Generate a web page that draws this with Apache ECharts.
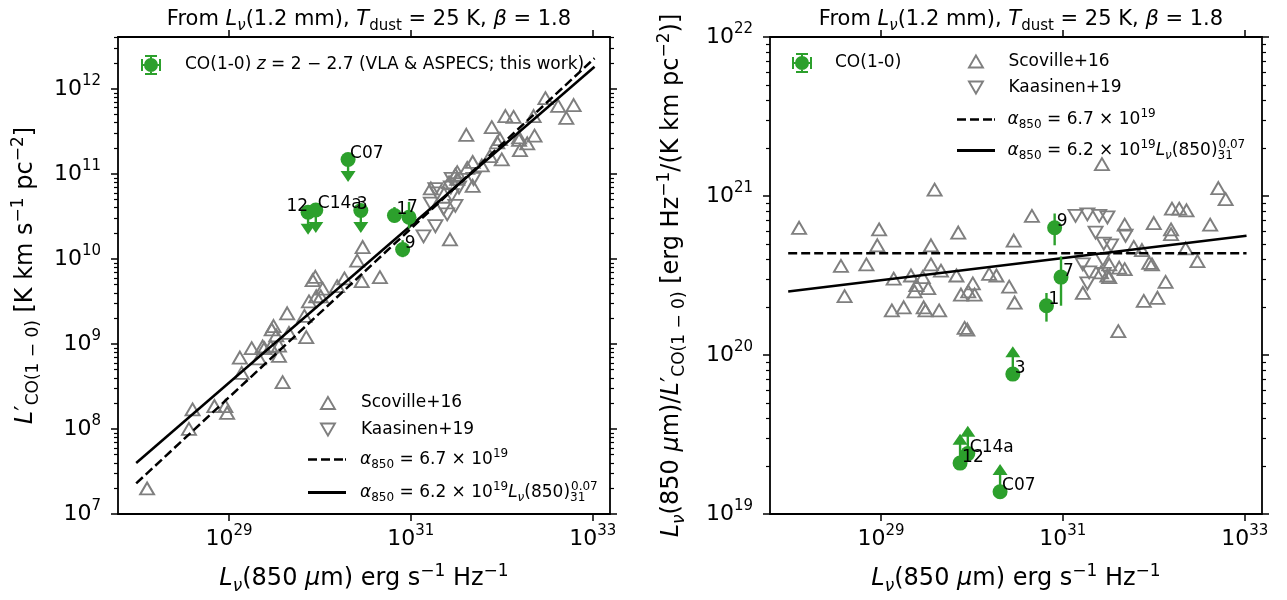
<!DOCTYPE html>
<html>
<head>
<meta charset="utf-8">
<script src="https://cdn.jsdelivr.net/npm/echarts@6/dist/echarts.min.js"></script>
<style>
    html, body { margin: 0; padding: 0; background: #ffffff; }
    #char1 { position: absolute; left: 0; top: 0; width: 643px; height: 600px; }
    #char2 { position: absolute; left: 643px; top: 0; width: 644px; height: 600px; }
</style>
</head>
<body>
<div id="char1"></div>
<div id="char2"></div>
<script>
// all values are log10
var scovLogLnu = [28.10, 29.59, 28.98, 28.96, 29.55, 28.56, 28.84, 29.55, 28.60, 29.14,
    29.33, 29.46, 29.39, 29.52, 29.37, 29.12, 29.25, 29.47, 29.49, 29.64,
    30.66, 29.85, 30.46, 29.66, 29.83, 30.19, 30.27, 30.01, 29.88, 29.96,
    30.03, 30.41, 30.47, 29.92, 29.95, 31.22, 31.43, 32.71, 32.79, 32.20,
    32.28, 32.36, 31.68, 32.00, 32.19, 32.19, 32.62, 31.78, 31.87, 32.35,
    32.48, 31.95, 31.98, 31.51, 31.42, 31.49, 31.51, 31.62, 31.68, 32.13,
    31.89, 32.04, 31.61];
var scovLogRatio = [20.80, 21.04, 20.79, 20.69, 20.69, 20.56, 20.57, 20.57, 20.37, 20.48,
    20.50, 20.49, 20.44, 20.42, 20.40, 20.28, 20.30, 20.30, 20.28, 20.28,
    20.875, 20.77, 20.72, 20.53, 20.50, 20.51, 20.50, 20.45, 20.38, 20.40,
    20.38, 20.43, 20.33, 20.17, 20.16, 20.39, 21.20, 21.05, 20.98, 20.92,
    20.92, 20.91, 20.82, 20.83, 20.79, 20.76, 20.82, 20.68, 20.66, 20.67,
    20.59, 20.58, 20.57, 20.57, 20.52, 20.50, 20.49, 20.55, 20.54, 20.46,
    20.34, 20.36, 20.15];

var kaasLogLnu = [31.14, 31.27, 31.40, 31.49, 31.36, 31.69, 31.45, 31.53, 31.22, 31.29, 31.27, 31.44, 31.45];
var kaasLogRatio = [20.875, 20.885, 20.875, 20.865, 20.77, 20.75, 20.70, 20.69, 20.57, 20.52, 20.45, 20.60, 20.51];

var coNames = ["C07", "12", "C14a", "3", "1", "7", "9"];
var coLogLnu = [30.31, 29.87, 29.955, 30.45, 30.82, 30.98, 30.91];
var coLogRatio = [19.14, 19.32, 19.38, 19.88, 20.31, 20.49, 20.80];
var coIsLimit = [true, true, true, true, false, false, false];
var coRatioLo = [null, null, null, null, 20.21, 20.31, 20.69];
var coRatioHi = [null, null, null, null, 20.39, 20.62, 20.89];
var coArrowEndL = [10.97, 10.35, 10.37, 10.37];   // upper limits, left panel
var coArrowEndR = [19.28, 19.47, 19.52, 20.02];   // lower limits, right panel

var fitLogLnu = [27.98, 33.02];
var fitConstL = [7.36, 12.36];
var fitVarL = [7.60, 12.26];
var fitConstR = [20.64, 20.64];
var fitVarR = [20.40, 20.75];

var xTicks = [29, 31, 33];
var yTicksL = [7, 8, 9, 10, 11, 12];
var yTicksR = [19, 20, 21, 22];

var FONT = "DejaVu Sans";
var GREEN = "#2ca02c";
var GREY = "#7f7f7f";

$ready(function () {
    char1();
    char2();
});

function $ready(fn) {
    if (document.readyState !== "loading") fn();
    else document.addEventListener("DOMContentLoaded", fn);
}

function rich(size) {
    var lh = Math.round(size * 1.35);
    var s = Math.round(size * 0.7), slh = Math.round(size * 0.75);
    var t = { fontFamily: FONT, color: "#000", fontWeight: "normal" };
    return {
        n: Object.assign({ fontSize: size, lineHeight: lh }, t),
        i: Object.assign({ fontSize: size, lineHeight: lh, fontStyle: "italic" }, t),
        sub: Object.assign({ fontSize: s, lineHeight: slh, verticalAlign: "bottom" }, t),
        isub: Object.assign({ fontSize: s, lineHeight: slh, verticalAlign: "bottom", fontStyle: "italic" }, t),
        sup: Object.assign({ fontSize: s, lineHeight: slh, verticalAlign: "top" }, t),
        sub0: Object.assign({ fontSize: s, lineHeight: slh, verticalAlign: "bottom", width: 1 }, t),
    };
}

function pow10(v) {
    return "{n|10}{sup|" + Math.round(v) + "}";
}

function minorTicks(min, max) {
    var out = [];
    for (var d = Math.floor(min); d <= Math.ceil(max); d++) {
        for (var k = 2; k <= 9; k++) {
            var v = d + Math.log10(k);
            if (v > min && v < max) out.push(v);
        }
    }
    return out;
}

var axisLineStyle = { show: true, onZero: false, lineStyle: { color: "#000", width: 1.8 } };

function xAxes(nameText) {
    var min = 27.78, max = 33.19;
    return [
        {
            type: "value", min: min, max: max, position: "bottom",
            name: nameText, nameLocation: "middle", nameGap: 49,
            nameTextStyle: { rich: rich(24) },
            axisLine: axisLineStyle,
            axisTick: { show: true, length: 7, customValues: xTicks, lineStyle: { color: "#000", width: 1.5 } },
            axisLabel: { customValues: xTicks, formatter: pow10, rich: rich(22), margin: 10 },
            splitLine: { show: false },
        },
        {
            type: "value", min: min, max: max, position: "top",
            axisLine: axisLineStyle,
            axisTick: { show: true, length: 7, customValues: xTicks, lineStyle: { color: "#000", width: 1.5 } },
            axisLabel: { show: false },
            splitLine: { show: false },
        },
    ];
}

function yAxes(min, max, major, nameText, nameGap) {
    var minor = minorTicks(min, max);
    var base = { type: "value", min: min, max: max, splitLine: { show: false } };
    return [
        Object.assign({}, base, {
            position: "left", name: nameText, nameLocation: "middle", nameGap: nameGap, nameRotate: 90,
            nameTextStyle: { rich: rich(24) },
            axisLine: axisLineStyle,
            axisTick: { show: true, length: 7, customValues: major, lineStyle: { color: "#000", width: 1.5 } },
            axisLabel: { customValues: major, formatter: pow10, rich: rich(22), margin: 17 },
        }),
        Object.assign({}, base, {
            position: "left", axisLine: { show: false },
            axisTick: { show: true, length: 4, customValues: minor, lineStyle: { color: "#000", width: 1.2 } },
            axisLabel: { show: false },
        }),
        Object.assign({}, base, {
            position: "right", axisLine: axisLineStyle,
            axisTick: { show: true, length: 7, customValues: major, lineStyle: { color: "#000", width: 1.5 } },
            axisLabel: { show: false },
        }),
        Object.assign({}, base, {
            position: "right", axisLine: { show: false },
            axisTick: { show: true, length: 4, customValues: minor, lineStyle: { color: "#000", width: 1.2 } },
            axisLabel: { show: false },
        }),
    ];
}

var titleText = "{n|From }{i|L}{isub|ν}{n|(1.2 mm), }{i|T}{sub|dust}{n| = 25 K, }{i|β}{n| = 1.8}";
var xNameText = "{i|L}{isub|ν}{n|(850 }{i|μ}{n|m) erg s}{sup|−1}{n| Hz}{sup|−1}";

var legendText = {
    "Scoville+16": "{n|Scoville+16}",
    "Kaasinen+19": "{n|Kaasinen+19}",
    "alpha const": "{i|α}{sub|850}{n| = 6.7 × 10}{sup|19}",
    "alpha var": "{i|α}{sub|850}{n| = 6.2 × 10}{sup|19}{i|L}{isub|ν}{n|(850)}{sub0|31}{sup|0.07}",
};

var icons = {
    "CO(1-0)": { path: "path://M4,0H16V2H4Z M4,18H16V20H4Z M0,4H2V16H0Z M18,4H20V16H18Z M9,0H11V20H9Z M0,9H20V11H0Z M10,3A7,7,0,1,1,9.99,3Z",
        w: 20, h: 20, style: { color: GREEN, borderWidth: 0 } },
    "Scoville+16": { path: "path://M7,0L14,12L0,12Z", w: 14, h: 12,
        style: { color: "rgba(0,0,0,0)", borderColor: GREY, borderWidth: 1.9 } },
    "Kaasinen+19": { path: "path://M0,0L14,0L7,12Z", w: 14, h: 12,
        style: { color: "rgba(0,0,0,0)", borderColor: GREY, borderWidth: 1.9 } },
    "alpha const": { path: "path://M0,0h9v2.6h-9z M13,0h9v2.6h-9z M26,0h9v2.6h-9z M37,0h1v2.6h-1z", w: 38, h: 2.6,
        style: { color: "#000", borderWidth: 0 } },
    "alpha var": { path: "path://M0,0h38v2.8h-38z", w: 38, h: 2.8,
        style: { color: "#000", borderWidth: 0 } },
};

// one legend box per entry, placed by icon centre and text start
function legendItem(name, cx, textX, cy, text) {
    var ic = icons[name];
    return {
        data: [name],
        left: cx - ic.w / 2 - 5, top: cy - 12, orient: "vertical",
        icon: ic.path, itemWidth: ic.w, itemHeight: ic.h,
        itemStyle: ic.style,
        lineStyle: { opacity: 0 },
        selectedMode: false,
        formatter: function () { return text; },
        textStyle: { rich: rich(17), padding: [0, 0, 0, textX - (cx + ic.w / 2) - 5] },
    };
}

function triSeries(name, xs, ys, rotate) {
    return {
        name: name, type: "scatter", symbol: "triangle", symbolSize: [14, 12], symbolRotate: rotate,
        itemStyle: { color: "rgba(0,0,0,0)", borderColor: GREY, borderWidth: 1.9, opacity: 1 },
        data: xs.map(function (x, i) { return [x, ys[i]]; }),
        z: 2, silent: true,
    };
}

function lineSeries(name, ys, dashed) {
    return {
        name: name, type: "line", symbol: "none",
        lineStyle: { color: "#000", width: 2.5, type: dashed ? [9, 4] : "solid" },
        data: fitLogLnu.map(function (x, i) { return [x, ys[i]]; }),
        z: 3, silent: true,
    };
}

// arrows (limits) and error bars for the CO points
function coBarsSeries(items, dir) {
    return {
        type: "custom", z: 4, silent: true,
        data: items,
        renderItem: function (params, api) {
            var p0 = api.coord([api.value(0), api.value(1)]);
            var p1 = api.coord([api.value(0), api.value(2)]);
            var kids = [{
                type: "line",
                shape: { x1: p0[0], y1: p0[1], x2: p1[0], y2: p1[1] },
                style: { stroke: GREEN, lineWidth: 2.4 },
            }];
            if (api.value(3) === 1) {
                var h = 5.5, w = 7.5;
                var tipY = p1[1] + dir * h, baseY = p1[1] - dir * h;
                kids.push({
                    type: "polygon",
                    shape: { points: [[p1[0], tipY], [p1[0] - w, baseY], [p1[0] + w, baseY]] },
                    style: { fill: GREEN },
                });
            }
            return { type: "group", children: kids };
        },
    };
}

function coPoints(ys, labelPos) {
    return {
        name: "CO(1-0)", type: "scatter", symbol: "circle", symbolSize: 15,
        itemStyle: { color: GREEN, opacity: 1 },
        z: 5, silent: true,
        data: coNames.map(function (nm, i) {
            var pos = labelPos[nm] || { position: [9.5, 1.5], align: "left" };
            return {
                name: nm, value: [coLogLnu[i], ys[i]],
                label: {
                    show: true, formatter: "{b}", position: pos.position, align: pos.align,
                    verticalAlign: "middle", fontFamily: FONT, fontSize: 17, color: "#000",
                },
            };
        }),
    };
}

function char1() {
    var myChart = echarts.init(document.getElementById("char1"));

    var scovL = scovLogLnu.map(function (x, i) { return x - scovLogRatio[i]; });
    var kaasL = kaasLogLnu.map(function (x, i) { return x - kaasLogRatio[i]; });
    var coL = coLogLnu.map(function (x, i) { return x - coLogRatio[i]; });

    var bars = [];
    coNames.forEach(function (nm, i) {
        if (coIsLimit[i]) bars.push([coLogLnu[i], coL[i], coArrowEndL[i], 1]);
        else bars.push([coLogLnu[i], coLogLnu[i] - coRatioHi[i], coLogLnu[i] - coRatioLo[i], 0]);
    });

    var option = {
        animation: false,
        title: {
            text: titleText, left: 364, top: 1, textAlign: "center",
            textStyle: { fontWeight: "normal", rich: rich(21) },
        },
        grid: { left: 118, top: 37, width: 492, height: 480 },
        xAxis: xAxes(xNameText),
        yAxis: yAxes(7, 12.61, yTicksL,
            "{i|L}{n|′}{sub|CO(1 − 0)}{n| [K km s}{sup|−1}{n| pc}{sup|−2}{n|]}", 76),
        legend: [
            legendItem("CO(1-0)", 151, 185, 62,
                "{n|CO(1-0) }{i|z}{n| = 2 − 2.7 (VLA & ASPECS; this work)}"),
            legendItem("Scoville+16", 327, 360, 401.5, legendText["Scoville+16"]),
            legendItem("Kaasinen+19", 327, 360, 428, legendText["Kaasinen+19"]),
            legendItem("alpha const", 327, 360, 455, legendText["alpha const"]),
            legendItem("alpha var", 327, 360, 488, legendText["alpha var"]),
        ],
        series: [
            triSeries("Scoville+16", scovLogLnu, scovL, 0),
            triSeries("Kaasinen+19", kaasLogLnu, kaasL, 180),
            lineSeries("alpha const", fitConstL, true),
            lineSeries("alpha var", fitVarL, false),
            coBarsSeries(bars, 1),
            coPoints(coL, {
                "12": { position: [7.5, 1.5], align: "right" },
                "3": { position: [3.5, 1.5], align: "left" },
                "7": { position: [5.5, -2.5], align: "left" },
            }),
        ],
    };

    myChart.setOption(option);
    window.addEventListener("resize", function () {
        myChart.resize();
    });
}

function char2() {
    var myChart = echarts.init(document.getElementById("char2"));

    var bars = [];
    coNames.forEach(function (nm, i) {
        if (coIsLimit[i]) bars.push([coLogLnu[i], coLogRatio[i], coArrowEndR[i], 1]);
        else bars.push([coLogLnu[i], coRatioLo[i], coRatioHi[i], 0]);
    });

    var option = {
        animation: false,
        title: {
            text: titleText, left: 373, top: 1, textAlign: "center",
            textStyle: { fontWeight: "normal", rich: rich(21) },
        },
        grid: { left: 127, top: 37, width: 492, height: 480 },
        xAxis: xAxes(xNameText),
        yAxis: yAxes(19, 22, yTicksR,
            "{i|L}{isub|ν}{n|(850 }{i|μ}{n|m)/}{i|L}{n|′}{sub|CO(1 − 0)}{n| [erg Hz}{sup|−1}{n|/(K km pc}{sup|−2}{n|)]}", 82),
        legend: [
            legendItem("CO(1-0)", 159, 192, 60, "{n|CO(1-0)}"),
            legendItem("Scoville+16", 332, 364.5, 60, legendText["Scoville+16"]),
            legendItem("Kaasinen+19", 332, 364.5, 86, legendText["Kaasinen+19"]),
            legendItem("alpha const", 333, 364.5, 115, legendText["alpha const"]),
            legendItem("alpha var", 333, 364.5, 146, legendText["alpha var"]),
        ],
        series: [
            triSeries("Scoville+16", scovLogLnu, scovLogRatio, 0),
            triSeries("Kaasinen+19", kaasLogLnu, kaasLogRatio, 180),
            lineSeries("alpha const", fitConstR, true),
            lineSeries("alpha var", fitVarR, false),
            coBarsSeries(bars, -1),
            coPoints(coLogRatio, {}),
        ],
    };

    myChart.setOption(option);
    window.addEventListener("resize", function () {
        myChart.resize();
    });
}
</script>
</body>
</html>
